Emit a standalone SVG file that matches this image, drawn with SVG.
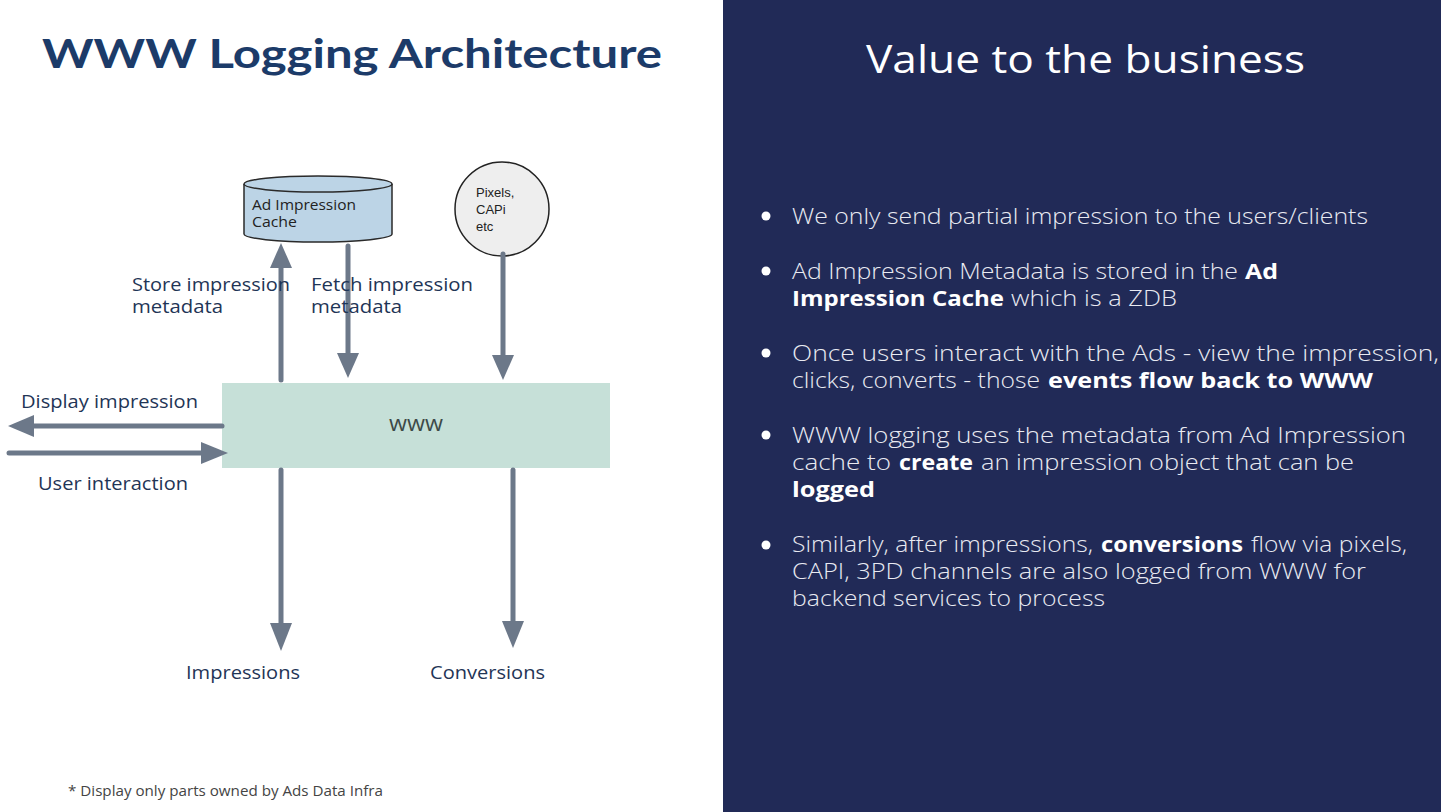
<svg xmlns="http://www.w3.org/2000/svg" width="1441" height="812" viewBox="0 0 1441 812">
<defs>
<style>
.lbl{font-family:"Open Sans","Liberation Sans",sans-serif;font-size:18px;fill:#1f3556}
.ar{font-family:"Liberation Sans",Arial,sans-serif;fill:#222}
.bul{font-family:"Open Sans","Liberation Sans",sans-serif;font-size:22px;fill:#e9eaf2;font-weight:300}
.b{font-weight:700;fill:#ffffff}
.conn{stroke:#6c7889;stroke-width:5;stroke-linecap:round;fill:none}
.head{fill:#6c7889}
</style>
</defs>
<rect x="0" y="0" width="723" height="812" fill="#ffffff"/>
<rect x="723" y="0" width="718" height="812" fill="#212a57"/>
<text x="42" y="68" font-family="Lato,'Open Sans',sans-serif" font-weight="700" font-size="40" fill="#1c3b69" textLength="620" lengthAdjust="spacingAndGlyphs">WWW Logging Architecture</text>
<text x="866" y="73" font-family="'Open Sans',Lato,sans-serif" font-weight="400" font-size="39" fill="#ffffff" textLength="439" lengthAdjust="spacingAndGlyphs">Value to the business</text>

<g id="cache">
<path d="M244 184 L244 234 A74 8 0 0 0 392 234 L392 184" fill="#bcd4e6" stroke="#2a2a2a" stroke-width="1.5"/>
<ellipse cx="318" cy="184" rx="74" ry="8" fill="#bcd4e6" stroke="#2a2a2a" stroke-width="1.5"/>
<text class="lbl" x="252" y="210" style="font-size:14px;fill:#222" textLength="104" lengthAdjust="spacingAndGlyphs">Ad Impression</text>
<text class="lbl" x="252" y="227" style="font-size:14px;fill:#222" textLength="45" lengthAdjust="spacingAndGlyphs">Cache</text>
</g>
<g id="pixels">
<circle cx="502" cy="209" r="47" fill="#eeeeee" stroke="#222" stroke-width="1.5"/>
<text class="ar" x="476" y="197" font-size="13">Pixels,</text>
<text class="ar" x="476" y="214" font-size="13">CAPi</text>
<text class="ar" x="476" y="231" font-size="13">etc</text>
</g>
<g id="www">
<rect x="222" y="383" width="388" height="85" fill="#c6e0d8"/>
<text x="389" y="431" font-family="'Open Sans',sans-serif" font-size="21" fill="#3d4a48" textLength="54" lengthAdjust="spacingAndGlyphs">www</text>
</g>

<g id="connectors">
<line class="conn" x1="281" y1="380" x2="281" y2="265"/>
<polygon class="head" points="281,243 270,268 292,268"/>
<line class="conn" x1="348" y1="246" x2="348" y2="355"/>
<polygon class="head" points="348,378 337,353 359,353"/>
<line class="conn" x1="503" y1="254" x2="503" y2="357"/>
<polygon class="head" points="503,380 492,355 514,355"/>
<line class="conn" x1="222" y1="426" x2="32" y2="426"/>
<polygon class="head" points="8,426 34,415 34,437"/>
<line class="conn" x1="9" y1="453" x2="202" y2="453"/>
<polygon class="head" points="228,453 201,442 201,464"/>
<line class="conn" x1="281" y1="470" x2="281" y2="625"/>
<polygon class="head" points="281,651 270,623 292,623"/>
<line class="conn" x1="513" y1="470" x2="513" y2="623"/>
<polygon class="head" points="513,648 502,621 524,621"/>
</g>

<g id="labels">
<text class="lbl" x="132" y="291" textLength="158" lengthAdjust="spacingAndGlyphs">Store impression</text>
<text class="lbl" x="132" y="313" textLength="91" lengthAdjust="spacingAndGlyphs">metadata</text>
<text class="lbl" x="311" y="291" textLength="162" lengthAdjust="spacingAndGlyphs">Fetch impression</text>
<text class="lbl" x="311" y="313" textLength="91" lengthAdjust="spacingAndGlyphs">metadata</text>
<text class="lbl" x="21" y="408" textLength="177" lengthAdjust="spacingAndGlyphs">Display impression</text>
<text class="lbl" x="38" y="490" textLength="150" lengthAdjust="spacingAndGlyphs">User interaction</text>
<text class="lbl" x="186" y="679" textLength="114" lengthAdjust="spacingAndGlyphs">Impressions</text>
<text class="lbl" x="430" y="679" textLength="115" lengthAdjust="spacingAndGlyphs">Conversions</text>
<text x="68" y="796" font-family="'Open Sans',sans-serif" font-size="14" fill="#444" textLength="315" lengthAdjust="spacingAndGlyphs">* Display only parts owned by Ads Data Infra</text>
</g>

<g id="bullets">
<circle cx="766" cy="216" r="4.5" fill="#fff"/>
<circle cx="766" cy="271" r="4.5" fill="#fff"/>
<circle cx="766" cy="353" r="4.5" fill="#fff"/>
<circle cx="766" cy="435" r="4.5" fill="#fff"/>
<circle cx="766" cy="545" r="4.5" fill="#fff"/>
<text class="bul" x="792" y="224" textLength="576" lengthAdjust="spacingAndGlyphs">We only send partial impression to the users/clients</text>
<text class="bul" x="792" y="279" textLength="446" lengthAdjust="spacingAndGlyphs">Ad Impression Metadata is stored in the</text>
<text class="bul b" x="1245" y="279" textLength="33" lengthAdjust="spacingAndGlyphs">Ad</text>
<text class="bul b" x="792" y="306" textLength="212" lengthAdjust="spacingAndGlyphs">Impression Cache</text>
<text class="bul" x="1011" y="306" textLength="166" lengthAdjust="spacingAndGlyphs">which is a ZDB</text>
<text class="bul" x="792" y="361" textLength="647" lengthAdjust="spacingAndGlyphs">Once users interact with the Ads - view the impression,</text>
<text class="bul" x="792" y="388" textLength="248" lengthAdjust="spacingAndGlyphs">clicks, converts - those</text>
<text class="bul b" x="1048" y="388" textLength="325" lengthAdjust="spacingAndGlyphs">events  flow back to WWW</text>
<text class="bul" x="792" y="443" textLength="614" lengthAdjust="spacingAndGlyphs">WWW logging uses the metadata from Ad Impression</text>
<text class="bul" x="792" y="470" textLength="99" lengthAdjust="spacingAndGlyphs">cache  to</text>
<text class="bul b" x="899" y="470" textLength="74" lengthAdjust="spacingAndGlyphs">create</text>
<text class="bul" x="981" y="470" textLength="373" lengthAdjust="spacingAndGlyphs">an impression object that can be</text>
<text class="bul b" x="792" y="497" textLength="83" lengthAdjust="spacingAndGlyphs">logged</text>
<text class="bul" x="792" y="552" textLength="301" lengthAdjust="spacingAndGlyphs">Similarly, after impressions,</text>
<text class="bul b" x="1101" y="552" textLength="142" lengthAdjust="spacingAndGlyphs">conversions</text>
<text class="bul" x="1251" y="552" textLength="156" lengthAdjust="spacingAndGlyphs">flow via pixels,</text>
<text class="bul" x="792" y="579" textLength="574" lengthAdjust="spacingAndGlyphs">CAPI, 3PD channels are also logged from WWW for</text>
<text class="bul" x="792" y="606" textLength="313" lengthAdjust="spacingAndGlyphs">backend services to process</text>
</g>
</svg>
